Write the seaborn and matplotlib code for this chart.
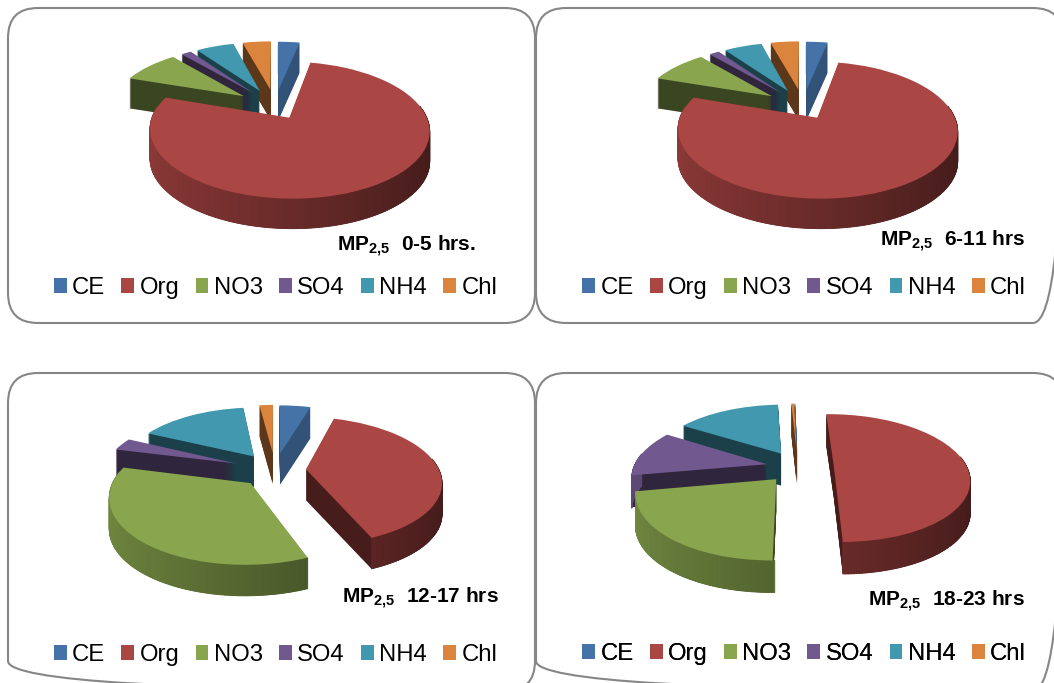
import numpy as np
import matplotlib
matplotlib.use('Agg')
import matplotlib.pyplot as plt
import matplotlib.transforms as mtransforms
from matplotlib.collections import PolyCollection
from matplotlib.patches import FancyBboxPatch, Patch
import seaborn as sns

species = ['CE', 'Org', 'NO3', 'SO4', 'NH4', 'Chl']
colors = ['#4572A7', '#AA4643', '#89A54E', '#71588F', '#4198AF', '#DB843D']

# percent of each species
vals_0_5 = [3.2, 77.0, 8.5, 1.5, 5.6, 4.2]
vals_6_11 = [3.2, 77.0, 8.5, 1.5, 5.6, 4.2]
vals_12_17 = [4.6, 39.3, 35.0, 3.2, 15.9, 2.0]
vals_18_23 = [0.1, 50.2, 22.3, 11.7, 15.3, 0.4]

titles = [r'MP$_{\mathbf{2{,}5}}$  0-5 hrs.', r'MP$_{\mathbf{2{,}5}}$  6-11 hrs',
          r'MP$_{\mathbf{2{,}5}}$  12-17 hrs', r'MP$_{\mathbf{2{,}5}}$  18-23 hrs']

# how far each slice is pulled out, same order as species
explode_0_5 = [0.27, 0.21, 0.29, 0.28, 0.28, 0.28]
explode_12_17 = [0.28, 0.234, 0.27, 0.32, 0.28, 0.29]
explode_18_23 = [0.25, 0.27, 0.247, 0.24, 0.26, 0.25]

sns.set_theme(style='white')
plt.rcParams['font.family'] = ['Liberation Sans', 'DejaVu Sans']
plt.rcParams['mathtext.fontset'] = 'custom'
plt.rcParams['mathtext.bf'] = 'Liberation Sans:bold'
plt.rcParams['mathtext.rm'] = 'Liberation Sans'
palette = sns.color_palette(colors)

W, H = 1054, 683
RX, RY, K = 133, 62, 0.177


# tilts the flat pie, far side smaller, and moves it to pixel position
class Tilt(mtransforms.Transform):
    input_dims = 2
    output_dims = 2

    def __init__(self, cx, cy):
        super().__init__()
        self.cx = cx
        self.cy = cy

    def transform_non_affine(self, xy):
        xy = np.asarray(xy, dtype=float)
        s = 1 / (1 + K * xy[:, 1])
        return np.column_stack([self.cx + RX * xy[:, 0] * s, self.cy - RY * xy[:, 1] * s])


def shade(c, f):
    return tuple(np.array(c) * f)


def draw_pie(ax, vals, cx, cy, explode, start, depth):
    mids = 90 + start - (np.cumsum(vals) - np.array(vals) / 2) / sum(vals) * 360
    # far slices first, near ones paint over them
    base = [100 * (20 - np.sin(np.radians(m))) for m in mids]

    for d in range(depth, -1, -1):
        wedges, _ = ax.pie(vals, explode=explode, startangle=90 + start, counterclock=False,
                           colors=palette, radius=1, wedgeprops={'linewidth': 0})
        for i, w in enumerate(wedges):
            w.set_transform(Tilt(cx, cy + d) + ax.transData)
            if d == 0:
                w.set_zorder(base[i] + 0.2)
            else:
                f = 0.72 if i == 0 else 0.42
                w.set_facecolor(shade(palette[i], f))
                w.set_zorder(base[i])

    # curved outer side, gets darker to the right
    tilt = Tilt(cx, cy)
    for i, w in enumerate(wedges):
        th = np.radians(np.arange(w.theta1, w.theta2 + 1.0, 1.0))
        th = th[np.sin(th) < 0.18]
        if len(th) < 2:
            continue
        pts = np.column_stack([w.center[0] + np.cos(th), w.center[1] + np.sin(th)])
        top = tilt.transform_non_affine(pts)
        quads, cols = [], []
        for j in range(len(top) - 1):
            a, b = top[j], top[j + 1]
            quads.append([a, b, b + [0, depth], a + [0, depth]])
            t = np.clip((np.cos(th[j]) + 1) / 2, 0, 1)
            cols.append(shade(palette[i], 0.82 - 0.42 * t))
        ax.add_collection(PolyCollection(quads, facecolors=cols, edgecolors=cols,
                                         linewidths=0.6, zorder=base[i] + 0.1))


fig = plt.figure(figsize=(W / 100, H / 100), dpi=100)
ax = fig.add_axes([0, 0, 1, 1])

draw_pie(ax, vals_0_5, 275, 106, explode_0_5, 0, 30)
draw_pie(ax, vals_6_11, 803, 106, explode_0_5, 0, 30)
draw_pie(ax, vals_12_17, 275, 470, explode_12_17, 0, 31)
draw_pie(ax, vals_18_23, 798, 467, explode_18_23, 1.5, 32)

ax.set_aspect('auto')
ax.set_xlim(0, W)
ax.set_ylim(H, 0)
ax.axis('off')

panels = [(8, 8, 527, 315), (536, 8, 527, 315), (8, 373, 527, 318), (536, 373, 527, 318)]
for x, y, w, h in panels:
    ax.add_patch(FancyBboxPatch((x + 30, y + 30), w - 60, h - 60, boxstyle='round,pad=30',
                                facecolor='none', edgecolor='#868686', linewidth=1.5, zorder=1))

title_pos = [(476, 246), (1025, 241), (499, 598), (1025, 601)]
for t, (x, y) in zip(titles, title_pos):
    ax.text(x, y, t, ha='right', va='center', fontsize=15, fontweight='bold', color='black', zorder=5000)

handles = [Patch(facecolor=c, edgecolor='none') for c in palette]
legend_pos = [(275.5, 288), (804, 288), (275.5, 655), (804, 654)]
for x, y in legend_pos:
    leg = ax.legend(handles, species, ncol=6, loc='center', bbox_to_anchor=(x, y),
                    bbox_transform=ax.transData, frameon=False, fontsize=17.2, borderpad=0,
                    borderaxespad=0, handlelength=0.54, handleheight=0.54, handletextpad=0.22,
                    columnspacing=0.68, labelcolor='black')
    leg.set_zorder(5000)
    ax.add_artist(leg)

fig.savefig('out.png', dpi=100)
